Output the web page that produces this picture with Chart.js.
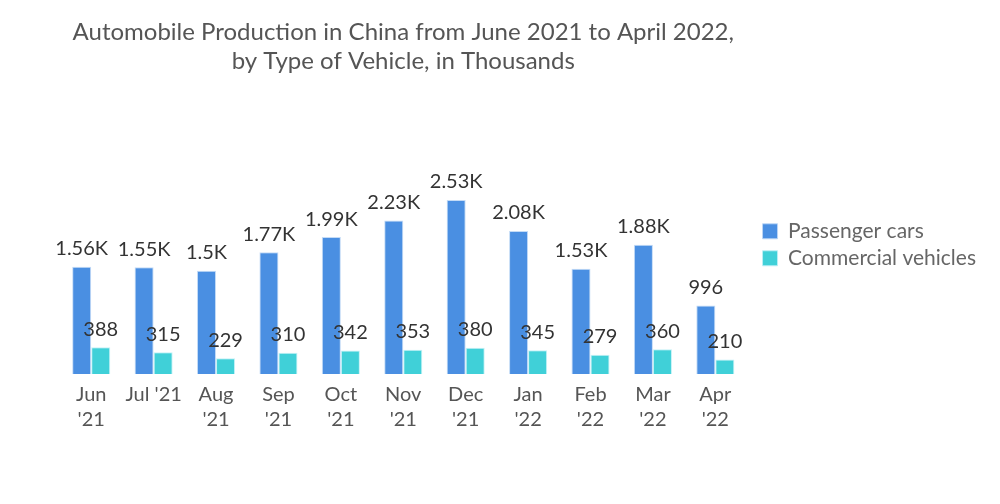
<!DOCTYPE html>
<html>
<head>
<meta charset="utf-8">
<script src="https://cdn.jsdelivr.net/npm/chart.js@4/dist/chart.umd.min.js"></script>
<style>
  html, body { margin: 0; padding: 0; background: #fff; }
  #wrap { width: 1000px; height: 504px; }
</style>
</head>
<body>
<div id="wrap"><canvas id="prod"></canvas></div>
<script>
var months = [["Jun", "'21"], "Jul '21", ["Aug", "'21"], ["Sep", "'21"], ["Oct", "'21"], ["Nov", "'21"],
              ["Dec", "'21"], ["Jan", "'22"], ["Feb", "'22"], ["Mar", "'22"], ["Apr", "'22"]];
var passengerCars = [1560, 1550, 1500, 1770, 1990, 2230, 2530, 2080, 1530, 1880, 996];
var commercialVehicles = [388, 315, 229, 310, 342, 353, 380, 345, 279, 360, 210];

var FONT = "Lato, 'Open Sans', sans-serif";

function fmt(v) {
    if (v >= 1000) {
        return parseFloat((v / 1000).toFixed(2)) + "K";
    }
    return String(v);
}

// draw value labels above every bar
var barLabels = {
    id: "barLabels",
    afterDatasetsDraw: function (chart) {
        var ctx = chart.ctx;
        ctx.save();
        ctx.font = "20px " + FONT;
        ctx.fillStyle = "#333";
        ctx.textAlign = "center";
        ctx.textBaseline = "bottom";
        chart.data.datasets.forEach(function (ds, i) {
            chart.getDatasetMeta(i).data.forEach(function (bar, j) {
                ctx.fillText(fmt(ds.data[j]), bar.x, bar.y - 8);
            });
        });
        ctx.restore();
    }
};

var ctx = document.getElementById("prod").getContext("2d");
new Chart(ctx, {
    type: "bar",
    data: {
        labels: months,
        datasets: [{
            label: "Passenger cars",
            data: passengerCars,
            backgroundColor: "#4a8fe2",
            borderColor: "rgba(190,215,245,0.9)",
            borderWidth: 1
        }, {
            label: "Commercial vehicles",
            data: commercialVehicles,
            backgroundColor: "#40d0d8",
            borderColor: "rgba(190,240,245,0.9)",
            borderWidth: 1
        }]
    },
    options: {
        responsive: true,
        maintainAspectRatio: false,
        animation: false,
        layout: { padding: { left: 60, right: 14, top: 0, bottom: 72 } },
        datasets: {
            bar: { barPercentage: 1, categoryPercentage: 0.61 }
        },
        plugins: {
            title: {
                display: true,
                fullSize: false,
                text: ["Automobile Production in China from June 2021 to April 2022,",
                       "by Type of Vehicle, in Thousands"],
                color: "#555",
                font: { family: FONT, size: 24, weight: "normal" },
                lineHeight: 1.25,
                padding: { top: 18, bottom: 92 }
            },
            legend: {
                position: "right",
                title: {
                    display: true,
                    text: "",
                    font: { size: 8 },
                    padding: { top: 48, bottom: 0 }
                },
                labels: {
                    color: "#666",
                    font: { family: FONT, size: 21 },
                    boxWidth: 15,
                    boxHeight: 15,
                    padding: 6
                }
            },
            tooltip: { enabled: false }
        },
        scales: {
            x: {
                grid: { display: false },
                border: { display: false },
                ticks: {
                    color: "#555",
                    font: { family: FONT, size: 20, lineHeight: 1.25 },
                    maxRotation: 0,
                    padding: 0
                }
            },
            y: {
                display: false,
                min: 0,
                max: 3000
            },
            // empty spacer between plot and legend
            gap: {
                position: "right",
                grid: { display: false },
                border: { display: false },
                ticks: { display: false },
                afterFit: function (scale) { scale.width = 10; }
            }
        }
    },
    plugins: [barLabels]
});
</script>
</body>
</html>
